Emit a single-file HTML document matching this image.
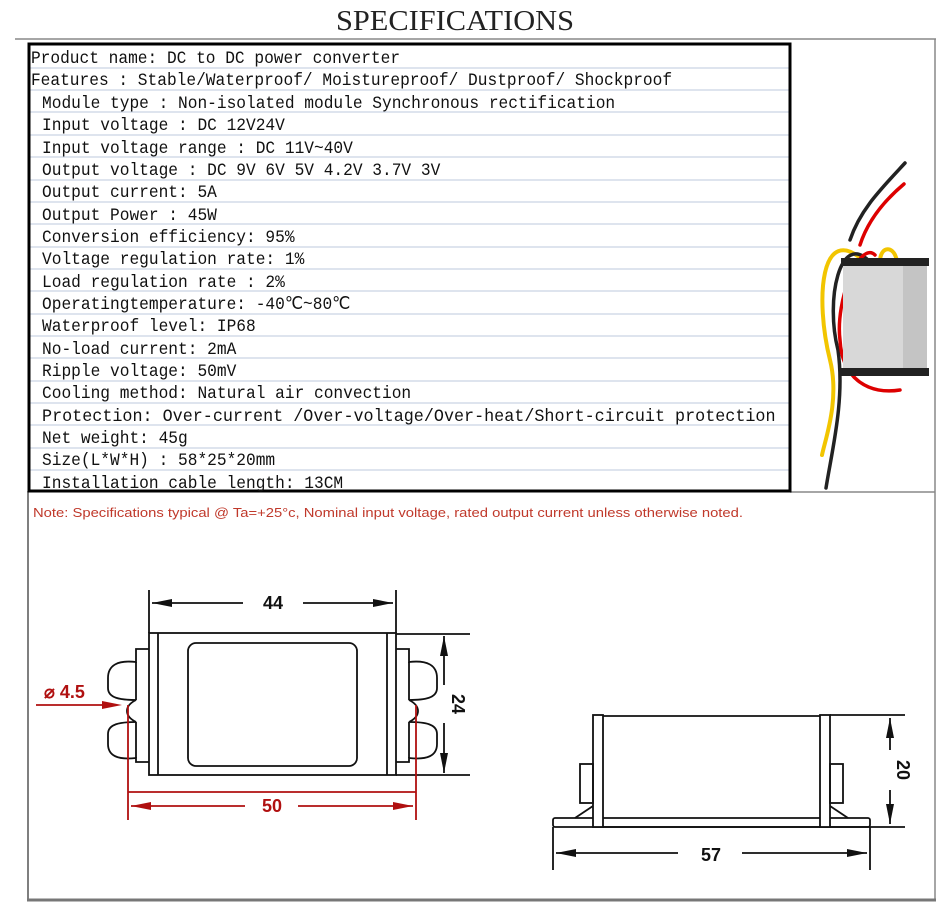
<!DOCTYPE html>
<html><head><meta charset="utf-8"><style>
body{margin:0;background:#fff;width:950px;height:913px;overflow:hidden}
svg{display:block}
.t{font-family:"Liberation Mono",monospace;font-size:18px;fill:#111}
.d{font-family:"Liberation Sans",sans-serif;font-weight:bold;font-size:18px}
</style></head><body>
<svg width="950" height="913" viewBox="0 0 950 913" xmlns="http://www.w3.org/2000/svg">
<text x="455" y="30" text-anchor="middle" font-family="Liberation Serif,serif" font-size="28" fill="#222" textLength="238" lengthAdjust="spacingAndGlyphs">SPECIFICATIONS</text>
<line x1="15" y1="39" x2="936" y2="39" stroke="#888" stroke-width="1.5"/>
<line x1="935" y1="39" x2="935" y2="901" stroke="#888" stroke-width="1.5"/>
<line x1="28" y1="491" x2="28" y2="901" stroke="#555" stroke-width="1.5"/>
<line x1="27" y1="900" x2="936" y2="900" stroke="#777" stroke-width="3"/>
<line x1="790" y1="492" x2="935" y2="492" stroke="#888" stroke-width="1.5"/>
<g stroke="#c9d3e3" stroke-width="1.2">
<line x1="30" y1="68" x2="789" y2="68"/><line x1="30" y1="90" x2="789" y2="90"/><line x1="30" y1="112" x2="789" y2="112"/><line x1="30" y1="135" x2="789" y2="135"/><line x1="30" y1="157" x2="789" y2="157"/><line x1="30" y1="180" x2="789" y2="180"/><line x1="30" y1="202" x2="789" y2="202"/><line x1="30" y1="224" x2="789" y2="224"/><line x1="30" y1="247" x2="789" y2="247"/><line x1="30" y1="269" x2="789" y2="269"/><line x1="30" y1="291" x2="789" y2="291"/><line x1="30" y1="314" x2="789" y2="314"/><line x1="30" y1="336" x2="789" y2="336"/><line x1="30" y1="358" x2="789" y2="358"/><line x1="30" y1="381" x2="789" y2="381"/><line x1="30" y1="403" x2="789" y2="403"/><line x1="30" y1="425" x2="789" y2="425"/><line x1="30" y1="448" x2="789" y2="448"/><line x1="30" y1="470" x2="789" y2="470"/>
</g>
<rect x="29" y="44" width="761" height="447" fill="none" stroke="#000" stroke-width="3"/>
<g class="t" transform="scale(0.9 1)">
<text x="34.4" y="63">Product name: DC to DC power converter</text>
<text x="34.4" y="85">Features : Stable/Waterproof/ Moistureproof/ Dustproof/ Shockproof</text>
<text x="46.7" y="108">Module type : Non-isolated module Synchronous rectification</text>
<text x="46.7" y="130">Input voltage : DC 12V24V</text>
<text x="46.7" y="153">Input voltage range : DC 11V~40V</text>
<text x="46.7" y="175">Output voltage : DC 9V 6V 5V 4.2V 3.7V 3V</text>
<text x="46.7" y="197">Output current:  5A</text>
<text x="46.7" y="220">Output Power : 45W</text>
<text x="46.7" y="242">Conversion efficiency: 95%</text>
<text x="46.7" y="264">Voltage regulation rate:  1%</text>
<text x="46.7" y="287">Load regulation rate : 2%</text>
<text x="46.7" y="309">Operatingtemperature: -40℃~80℃</text>
<text x="46.7" y="331">Waterproof level:  IP68</text>
<text x="46.7" y="354">No-load current: 2mA</text>
<text x="46.7" y="376">Ripple voltage:  50mV</text>
<text x="46.7" y="398">Cooling method:  Natural air convection</text>
<text x="46.7" y="421" textLength="815" lengthAdjust="spacingAndGlyphs">Protection:  Over-current /Over-voltage/Over-heat/Short-circuit protection</text>
<text x="46.7" y="443">Net weight:  45g</text>
<text x="46.7" y="465">Size(L*W*H) : 58*25*20mm</text>
<text x="46.7" y="488">Installation cable length:  13CM</text>
</g>
<text x="33" y="517" font-family="Liberation Sans,sans-serif" font-size="13" fill="#c0392b" textLength="710" lengthAdjust="spacingAndGlyphs">Note: Specifications typical @ Ta=+25°c, Nominal input voltage, rated output current unless otherwise noted.</text>
<g fill="none" stroke-linecap="round">
<path d="M905 163 C880 190 860 210 850 240" stroke="#222" stroke-width="3.5"/>
<path d="M904 184 C885 200 868 220 860 245" stroke="#d00" stroke-width="3.5"/>
<path d="M865 262 C820 220 815 300 830 360 C840 400 825 440 822 455" stroke="#f2c500" stroke-width="4"/>
<path d="M870 262 C840 230 825 300 838 350 C845 400 832 450 826 488" stroke="#222" stroke-width="3.5"/>
<path d="M875 255 C860 240 835 300 840 340 C842 380 870 395 900 390" stroke="#d00" stroke-width="3.5"/>
<path d="M880 262 C880 245 895 245 897 262" stroke="#f2c500" stroke-width="4"/>
</g>
<rect x="843" y="262" width="84" height="110" fill="#c4c4c4"/>
<rect x="843" y="262" width="60" height="110" fill="#d8d8d8"/>
<rect x="841" y="258" width="88" height="8" fill="#222"/>
<rect x="841" y="368" width="88" height="8" fill="#222"/>
<g stroke="#111" stroke-width="1.8" fill="none">
<rect x="149" y="633" width="247" height="142"/>
<line x1="158" y1="633" x2="158" y2="775"/><line x1="387" y1="633" x2="387" y2="775"/>
<rect x="188" y="643" width="169" height="123" rx="8"/>
<path d="M149 649 H136 V662 C118 660 108 665 108 678 V688 C108 698 120 700 136 700 C124 706 124 716 136 722 C120 722 108 724 108 734 V744 C108 756 118 760 136 758 V762 H149"/>
<line x1="136" y1="662" x2="136" y2="700"/><line x1="136" y1="722" x2="136" y2="758"/>
<path d="M396 649 H409 V662 C427 660 437 665 437 678 V688 C437 698 425 700 409 700 C421 706 421 716 409 722 C425 722 437 724 437 734 V744 C437 756 427 760 409 758 V762 H396"/>
<line x1="409" y1="662" x2="409" y2="700"/><line x1="409" y1="722" x2="409" y2="758"/>
<line x1="149" y1="590" x2="149" y2="633"/><line x1="396" y1="590" x2="396" y2="633"/>
<line x1="152" y1="603" x2="243" y2="603"/><line x1="303" y1="603" x2="393" y2="603"/>
<line x1="396" y1="634" x2="470" y2="634"/><line x1="396" y1="775" x2="470" y2="775"/>
<line x1="444" y1="636" x2="444" y2="685"/><line x1="444" y1="723" x2="444" y2="773"/>
</g>
<g fill="#111">
<polygon points="152,603 172,599 172,607"/><polygon points="393,603 373,599 373,607"/>
<polygon points="444,636 440,656 448,656"/><polygon points="444,773 440,753 448,753"/>
</g>
<text x="273" y="609" text-anchor="middle" class="d" fill="#111">44</text>
<text transform="translate(452,704) rotate(90)" text-anchor="middle" class="d" fill="#111">24</text>
<g stroke="#b01010" stroke-width="1.8">
<line x1="128" y1="705" x2="128" y2="820"/><line x1="416" y1="705" x2="416" y2="820"/>
<line x1="128" y1="792" x2="416" y2="792"/>
<line x1="131" y1="806" x2="245" y2="806"/><line x1="298" y1="806" x2="413" y2="806"/>
<line x1="36" y1="705" x2="105" y2="705"/>
</g>
<g fill="#b01010">
<polygon points="131,806 151,802 151,810"/><polygon points="413,806 393,802 393,810"/>
<polygon points="122,705 102,701 102,709"/>
</g>
<text x="272" y="812" text-anchor="middle" class="d" fill="#b01010">50</text>
<text x="44" y="698" class="d" fill="#b01010">⌀ 4.5</text>
<g stroke="#111" stroke-width="1.8" fill="none">
<rect x="553" y="818" width="317" height="9" rx="2"/>
<rect x="593" y="715" width="10" height="112" fill="#fff"/>
<rect x="820" y="715" width="10" height="112" fill="#fff"/>
<line x1="603" y1="716" x2="820" y2="716"/><line x1="603" y1="827" x2="820" y2="827"/>
<rect x="580" y="764" width="13" height="39"/><rect x="830" y="764" width="13" height="39"/>
<line x1="593" y1="806" x2="575" y2="818"/><line x1="830" y1="806" x2="848" y2="818"/>
<line x1="553" y1="827" x2="553" y2="870"/><line x1="870" y1="827" x2="870" y2="870"/>
<line x1="556" y1="853" x2="678" y2="853"/><line x1="742" y1="853" x2="867" y2="853"/>
<line x1="830" y1="715" x2="905" y2="715"/><line x1="830" y1="827" x2="905" y2="827"/>
<line x1="890" y1="718" x2="890" y2="750"/><line x1="890" y1="790" x2="890" y2="824"/>
</g>
<g fill="#111">
<polygon points="556,853 576,849 576,857"/><polygon points="867,853 847,849 847,857"/>
<polygon points="890,718 886,738 894,738"/><polygon points="890,824 886,804 894,804"/>
</g>
<text x="711" y="861" text-anchor="middle" class="d" fill="#111">57</text>
<text transform="translate(897,770) rotate(90)" text-anchor="middle" class="d" fill="#111">20</text>
</svg>
</body></html>
